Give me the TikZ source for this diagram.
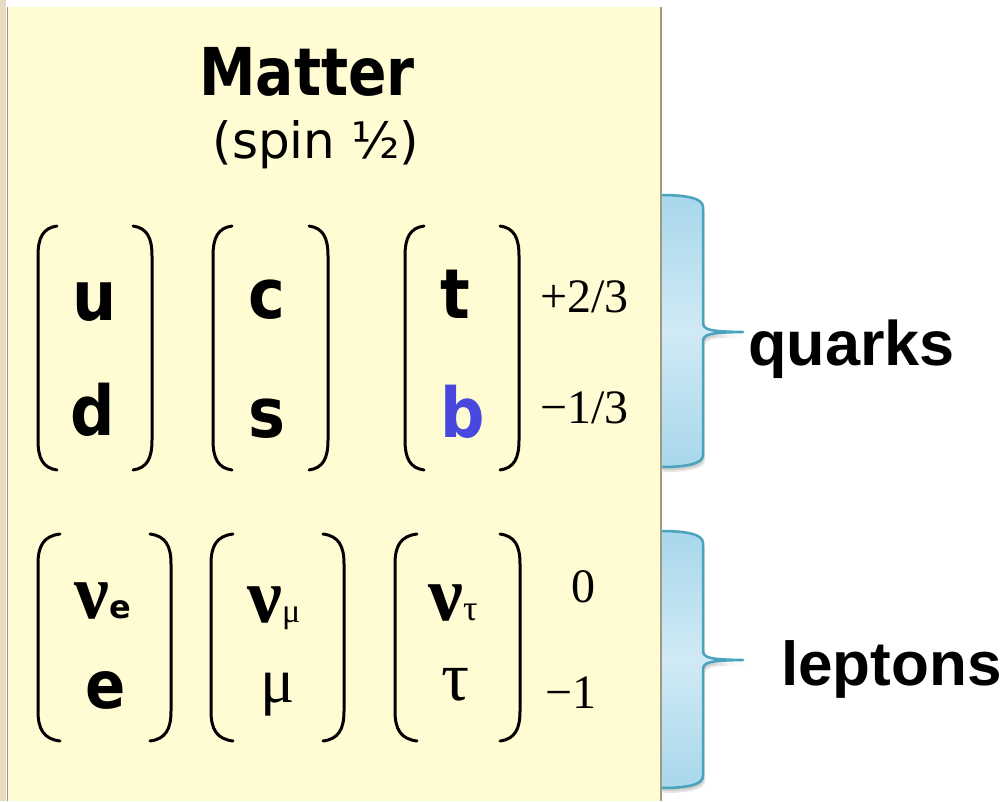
\documentclass[tikz,border=0pt]{standalone}
\usepackage{fontspec}
\usepackage{graphicx}
\newfontfamily\dvs{DejaVu Sans}
\newfontfamily\lsans{Liberation Sans}
\newfontfamily\lserif{Liberation Serif}

\newcommand{\fs}[1]{\fontsize{#1}{#1}\selectfont}
\newcommand{\hs}[2]{\scalebox{#1}[1]{#2}}

% outline of a callout brace: top y, tip y, bottom y
\newcommand{\bracecurve}[3]{(661,#1) .. controls (686,#1) and (703,#1+3) .. (703,#1+12)
  -- (703,#2-10) .. controls (703,#2-2) and (709,#2-0.6) .. (743,#2)
  .. controls (709,#2+0.6) and (703,#2+2) .. (703,#2+10)
  -- (703,#3-12) .. controls (703,#3-3) and (686,#3) .. (661,#3)}

% a round bracket: vertical x, tip x, top y, bottom y
\newcommand{\parenpath}[4]{(#2,#3) .. controls ({#1+0.25*(#2-#1)},#3+2) and (#1,#3+12) .. (#1,#3+30)
  -- (#1,#4-30) .. controls (#1,#4-12) and ({#1+0.25*(#2-#1)},#4-2) .. (#2,#4)}

\definecolor{panel}{RGB}{255,252,212}
\definecolor{paneledge}{RGB}{158,154,132}
\definecolor{tanstrip}{RGB}{232,220,192}
\definecolor{bfill}{RGB}{168,215,235}
\definecolor{bfilllight}{RGB}{208,234,245}
\definecolor{bedge}{RGB}{74,163,188}
\definecolor{bquark}{RGB}{72,72,222}

\begin{document}
\begin{tikzpicture}[x=1pt,y=-1pt,
  txt/.style={inner sep=0pt, anchor=base},
  txtw/.style={inner sep=0pt, anchor=base west},
  bold quark/.style={txt, font=\dvs\bfseries\fs{69}},
  paren/.style={line width=3pt, line cap=round, black},
  brace fill/.style={top color=bfill, bottom color=bfill, middle color=bfilllight},
  brace edge/.style={draw=bedge, line width=2.5pt, line join=round},
  brace shadow/.style={fill=black, opacity=0.10},
  label/.style={txtw, font=\lsans\bfseries\fs{63}},
  charge/.style={font=\lserif\fs{48}},
  nu/.style={font=\lserif\bfseries\fs{78}}]
\useasboundingbox (0,0) rectangle (1008,801);
\fill[white] (0,0) rectangle (1008,801);

% panel
\fill[tanstrip] (0,0) rectangle (6,801);
\fill[panel] (7,7) rectangle (661,801);
\draw[paneledge, line width=1.5pt] (7.5,7) -- (7.5,801);

% callout braces
\foreach \a/\m/\b in {195/332/467, 531/660/788} {
  \fill[brace shadow] [shift={(2,5)}] \bracecurve{\a}{\m}{\b} -- cycle;
  \fill[brace shadow] [shift={(1,3)}] \bracecurve{\a}{\m}{\b} -- cycle;
  \path[brace fill] \bracecurve{\a}{\m}{\b} -- cycle;
  \path[brace edge] \bracecurve{\a}{\m}{\b};
}
\draw[paneledge, line width=1.5pt] (661,7) -- (661,801);

% title
\node[txt, font=\dvs\bfseries\fs{66}] (matter) at (307,95) {\hs{0.86}{Matter}};
\node[txt, font=\dvs\fs{50}] (spin) at (316,158) {(spin ½)};

% quark doublets
\draw[paren] \parenpath{38}{57}{226}{470};
\draw[paren] \parenpath{152}{133}{226}{470};
\draw[paren] \parenpath{213}{232}{226}{470};
\draw[paren] \parenpath{328}{309}{226}{470};
\draw[paren] \parenpath{405}{424}{226}{470};
\draw[paren] \parenpath{519}{500}{226}{470};

\node[bold quark] (u) at (94.5,320) {\hs{0.9}{u}};
\node[bold quark] (d) at (92.5,435) {\hs{0.9}{d}};
\node[bold quark] (c) at (267,318) {\hs{0.9}{c}};
\node[bold quark] (s) at (267,437) {\hs{0.9}{s}};
\node[bold quark] (t) at (455,318) {\hs{0.9}{t}};
\node[bold quark, text=bquark] (b) at (463,437) {\hs{0.9}{b}};

\node[txtw, charge] (qup) at (540,312) {+2/3};
\node[txtw, charge] (qdn) at (540,423) {−1/3};

% lepton doublets
\draw[paren] \parenpath{38}{60}{534}{741};
\draw[paren] \parenpath{171}{150}{534}{741};
\draw[paren] \parenpath{211}{233}{534}{741};
\draw[paren] \parenpath{344}{323}{534}{741};
\draw[paren] \parenpath{395}{417}{534}{741};
\draw[paren] \parenpath{520}{500}{534}{741};

\node[txtw] (nue) at (74,618) {{\lserif\bfseries\fs{78}ν}{\dvs\bfseries\fs{32}e}};
\node[txtw] (numu) at (247,622) {{\lserif\bfseries\fs{78}ν}{\lserif\fs{34}μ}};
\node[txtw] (nutau) at (428,620) {{\lserif\bfseries\fs{78}ν}{\lserif\fs{36}τ}};
\node[txt, font=\dvs\bfseries\fs{66}] (e) at (106,708) {\hs{0.9}{e}};
\node[txt, font=\lserif\fs{64}] (mu) at (278,702) {μ};
\node[txt, font=\lserif\fs{70}] (tau) at (456,700) {τ};

\node[txt, charge] (lup) at (583,602) {0};
\node[txtw, charge] (ldn) at (545,708) {−1};

% group labels
\node[label] (quarks) at (748,365) {quarks};
\node[label, font=\lsans\bfseries\fs{62}] (leptons) at (781,685) {leptons};
\end{tikzpicture}
\end{document}
